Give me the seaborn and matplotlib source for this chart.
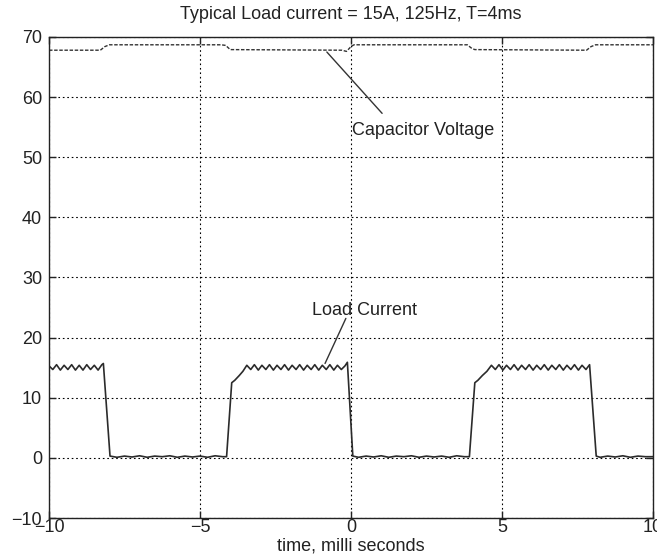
import matplotlib
matplotlib.use("Agg")
import matplotlib.pyplot as plt
import seaborn as sns
import pandas as pd

# Load current trace (ms, A)
time_ms = [
    -10.0, -9.875, -9.75, -9.625, -9.5, -9.375, -9.25, -9.125, -9.0, -8.875,
    -8.75, -8.625, -8.5, -8.375, -8.25, -8.2, -7.98,
    -7.75, -7.5, -7.25, -7.0, -6.75, -6.5, -6.25, -6.0, -5.75, -5.5,
    -5.25, -5.0, -4.75, -4.5, -4.25, -4.12,
    -3.95, -3.85, -3.7, -3.58, -3.45,
    -3.32, -3.2, -3.07, -2.95, -2.82, -2.7, -2.57, -2.45, -2.32, -2.2,
    -2.07, -1.95, -1.82, -1.7, -1.57, -1.45, -1.32, -1.2, -1.07, -0.95,
    -0.82, -0.7, -0.57, -0.45, -0.32, -0.2, -0.12, 0.06,
    0.25, 0.5, 0.75, 1.0, 1.25, 1.5, 1.75, 2.0, 2.25, 2.5,
    2.75, 3.0, 3.25, 3.5, 3.75, 3.92,
    4.1, 4.2, 4.35, 4.5, 4.65,
    4.78, 4.9, 5.03, 5.15, 5.28, 5.4, 5.53, 5.65, 5.78, 5.9,
    6.03, 6.15, 6.28, 6.4, 6.53, 6.65, 6.78, 6.9, 7.03, 7.15,
    7.28, 7.4, 7.53, 7.65, 7.78, 7.9, 8.12,
    8.25, 8.5, 8.75, 9.0, 9.25, 9.5, 9.75, 10.0,
]
load_current_A = [
    15.3, 14.7, 15.5, 14.6, 15.4, 14.7, 15.5, 14.6, 15.4, 14.6,
    15.5, 14.7, 15.4, 14.6, 15.5, 15.7, 0.3,
    0.1, 0.3, 0.15, 0.35, 0.1, 0.3, 0.2, 0.35, 0.1, 0.3,
    0.15, 0.3, 0.1, 0.35, 0.2, 0.2,
    12.5, 12.9, 13.7, 14.4, 15.4,
    14.7, 15.5, 14.6, 15.4, 14.7, 15.5, 14.6, 15.4, 14.7, 15.5,
    14.6, 15.4, 14.7, 15.5, 14.6, 15.4, 14.7, 15.5, 14.6, 15.4,
    14.7, 15.5, 14.6, 15.4, 14.7, 15.3, 15.9, 0.3,
    0.1, 0.3, 0.15, 0.35, 0.1, 0.3, 0.2, 0.35, 0.1, 0.3,
    0.15, 0.3, 0.1, 0.35, 0.2, 0.2,
    12.5, 12.9, 13.7, 14.4, 15.4,
    14.7, 15.5, 14.6, 15.4, 14.7, 15.5, 14.6, 15.4, 14.7, 15.5,
    14.6, 15.4, 14.7, 15.5, 14.6, 15.4, 14.7, 15.5, 14.6, 15.4,
    14.7, 15.5, 14.6, 15.4, 14.7, 15.5, 0.3,
    0.1, 0.3, 0.15, 0.35, 0.1, 0.3, 0.2, 0.2,
]

# Capacitor voltage trace (ms, V)
cap_time_ms = [-10.0, -8.3, -8.15, -8.0, -4.3, -4.15, -4.0, -0.3, -0.15,
               0.0, 0.1, 3.85, 4.0, 4.1, 7.8, 7.95, 8.1, 10.0]
cap_voltage_V = [67.8, 67.8, 68.4, 68.7, 68.7, 68.6, 67.9, 67.8, 67.6,
                 68.4, 68.7, 68.7, 68.1, 67.9, 67.8, 68.4, 68.7, 68.7]

x_ticks = [-10, -5, 0, 5, 10]
y_ticks = [-10, 0, 10, 20, 30, 40, 50, 60, 70]

title_text = "Typical Load current = 15A, 125Hz, T=4ms"
x_label = "time, milli seconds"

sns.set_style("white")
plt.rcParams["font.family"] = ["Liberation Sans", "DejaVu Sans"]

FS = 13

fig = plt.figure(figsize=(6.57, 5.56), dpi=100)
ax = fig.add_axes([0.0746, 0.0683, 0.9193, 0.8652])

cur_df = pd.DataFrame({"t": time_ms, "i": load_current_A})
cap_df = pd.DataFrame({"t": cap_time_ms, "v": cap_voltage_V})

sns.lineplot(data=cur_df, x="t", y="i", estimator=None, sort=False,
             color="#2b2b2b", linewidth=1.2, ax=ax)
sns.lineplot(data=cap_df, x="t", y="v", estimator=None, sort=False,
             color="#333333", linewidth=1.0, linestyle=(0, (2.5, 1.2)), ax=ax)

ax.set_xlim(-10, 10)
ax.set_ylim(-10, 70)
ax.set_xticks(x_ticks)
ax.set_yticks(y_ticks)
ax.grid(True, color="black", linestyle=(0, (1.5, 2.5)), linewidth=0.8)

for s in ax.spines.values():
    s.set_visible(True)
    s.set_color("#222222")
    s.set_linewidth(1.0)

ax.tick_params(direction="in", length=5, width=1.0, colors="#222222",
               labelcolor="#222222", labelsize=FS, top=True, right=True,
               bottom=True, left=True)
ax.tick_params(axis="x", pad=1)
ax.tick_params(axis="y", pad=5)

ax.set_title(title_text, fontsize=FS, pad=13, color="#222222")
ax.set_xlabel(x_label, fontsize=FS, labelpad=1, color="#222222")
ax.set_ylabel("")

ax.annotate("", xy=(-0.8, 67.5), xytext=(1.03, 57.3),
            arrowprops=dict(arrowstyle="-", color="#333333", lw=1.0,
                            shrinkA=0, shrinkB=0))
ax.text(0.03, 54.5, "Capacitor Voltage", fontsize=FS, va="center",
        ha="left", color="#222222")

ax.annotate("", xy=(-0.86, 15.7), xytext=(-0.17, 23.2),
            arrowprops=dict(arrowstyle="-", color="#333333", lw=1.0,
                            shrinkA=0, shrinkB=0))
ax.text(-1.29, 24.5, "Load Current", fontsize=FS, va="center",
        ha="left", color="#222222")

fig.savefig("out.png", dpi=100)
